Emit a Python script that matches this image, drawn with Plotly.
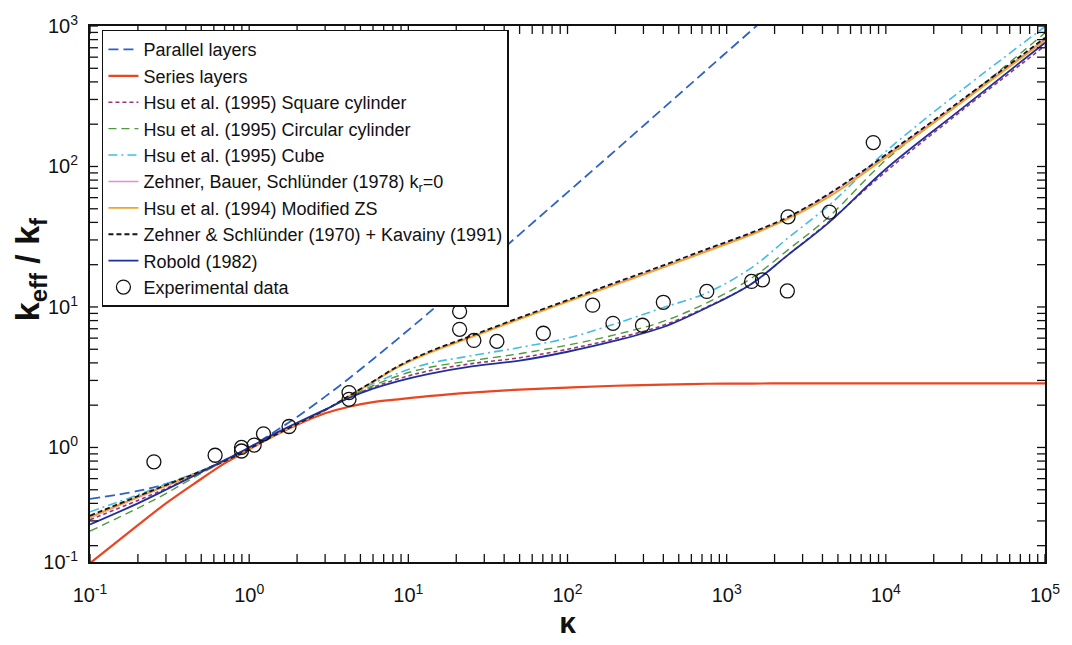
import math
import plotly.graph_objects as go

# Effective conductivity ratio vs. conductivity ratio kappa = k_s / k_f
kappa = [0.1, 0.2, 0.3, 0.47, 0.7, 1, 1.5, 2, 3, 4.24, 6, 8.66, 13.3, 25, 50,
         100, 200, 400, 750, 1430, 2430, 4400, 1e4, 3e4, 1e5]

parallel = [0.43, 0.49, 0.55, 0.66, 0.81, 1.0, 1.33, 1.65, 2.3, 3.1, 4.25, 5.98,
            9.0, 16.6, 32.9, 65.4, 130, 260, 488, 930, 1580, 2860, 6500, 19500, 65000]
series = [0.15, 0.28, 0.40, 0.57, 0.77, 0.97, 1.24, 1.45, 1.75, 1.95, 2.10, 2.20,
          2.32, 2.46, 2.58, 2.67, 2.75, 2.80, 2.84, 2.85, 2.86, 2.86, 2.86, 2.86, 2.86]
hsu_square = [0.306, 0.42, 0.51, 0.645, 0.80, 0.99, 1.26, 1.48, 1.85, 2.27, 2.68, 3.08,
              3.5, 3.95, 4.35, 5.0, 5.95, 7.4, 10.0, 14.6, 23.5, 40.5, 92, 250, 723]
hsu_circular = [0.254, 0.37, 0.47, 0.63, 0.80, 0.99, 1.26, 1.48, 1.85, 2.28, 2.75, 3.24,
                3.7, 4.15, 4.65, 5.35, 6.35, 7.9, 10.7, 16.0, 25.5, 44, 111, 290, 893]
hsu_cube = [0.348, 0.46, 0.55, 0.665, 0.81, 0.99, 1.26, 1.48, 1.85, 2.32, 2.85, 3.38,
            3.95, 4.5, 5.15, 6.0, 7.6, 9.9, 12.6, 19, 31, 53, 128, 350, 990]
zbs_kr0 = [0.315, 0.44, 0.53, 0.655, 0.80, 0.98, 1.25, 1.47, 1.85, 2.32, 2.93, 3.76,
           4.72, 6.17, 8.28, 11.0, 14.6, 19.4, 25.3, 33.2, 43.0, 63, 119, 293, 808]
hsu_mod_zs = [0.32, 0.445, 0.535, 0.655, 0.80, 0.98, 1.25, 1.47, 1.84, 2.31, 2.92, 3.74,
              4.68, 6.1, 8.2, 10.9, 14.4, 19.1, 24.9, 32.7, 42.5, 61, 116, 287, 790]
zs_kaviany = [0.327, 0.45, 0.54, 0.66, 0.80, 0.98, 1.25, 1.47, 1.85, 2.33, 2.95, 3.80,
              4.77, 6.25, 8.4, 11.2, 14.9, 19.8, 25.8, 33.8, 43.7, 64, 121, 298, 824]
robold = [0.283, 0.40, 0.50, 0.645, 0.81, 1.0, 1.28, 1.5, 1.86, 2.25, 2.62, 2.97,
          3.33, 3.78, 4.15, 4.8, 5.75, 7.2, 9.9, 14.6, 23.5, 40, 96, 258, 760]

exp_kappa = [0.252, 0.611, 0.895, 0.895, 1.075, 1.23, 1.78, 4.24, 4.24, 21.0, 21.0,
             25.8, 36.0, 70.5, 144, 193, 296, 400, 750, 1433, 1679, 2405, 2430, 4425, 8335]
exp_keff = [0.79, 0.88, 1.00, 0.944, 1.04, 1.25, 1.41, 2.46, 2.20, 9.28, 6.93,
            5.78, 5.69, 6.50, 10.3, 7.65, 7.41, 10.8, 12.9, 15.2, 15.6, 13.0, 43.8, 47.4, 148]

FONT = "Liberation Sans, Arial, sans-serif"

curves = [
    ("Parallel layers", parallel, "#2f62c4", "10px,5px", 1.8),
    ("Series layers", series, "#ea4520", "solid", 2.2),
    ("Hsu et al. (1995) Square cylinder", hsu_square, "#9a3576", "4px,3px", 1.6),
    ("Hsu et al. (1995) Circular cylinder", hsu_circular, "#4e9a3c", "8px,5px", 1.4),
    ("Hsu et al. (1995) Cube", hsu_cube, "#43bde6", "9px,4px,2px,4px", 1.6),
    ("Zehner, Bauer, Schlünder (1978) k<sub>r</sub>=0", zbs_kr0, "#ea8ad6", "solid", 1.4),
    ("Hsu et al. (1994) Modified ZS", hsu_mod_zs, "#f5a323", "solid", 1.8),
    ("Zehner & Schlünder (1970) + Kavainy (1991)", zs_kaviany, "#151515", "5px,3px", 1.8),
    ("Robold (1982)", robold, "#1f2f9e", "solid", 1.8),
]

fig = go.Figure()
for name, vals, color, dash, width in curves:
    fig.add_trace(go.Scatter(x=kappa, y=vals, mode="lines", name=name,
                             line=dict(color=color, dash=dash, width=width,
                                       shape="spline", smoothing=1.0)))

fig.add_trace(go.Scatter(x=exp_kappa, y=exp_keff, mode="markers", name="Experimental data",
                         marker=dict(symbol="circle-open", size=14, color="#111",
                                     line=dict(width=1.3, color="#111"))))

# log axes: 10^-1 .. 10^5 horizontally; vertical axis bottom edge sits just above 0.15
y_bottom = 0.153
x_major = [0.1, 1, 10, 100, 1000, 1e4, 1e5]
x_major_text = ["10<sup>-1</sup>", "10<sup>0</sup>", "10<sup>1</sup>", "10<sup>2</sup>",
                "10<sup>3</sup>", "10<sup>4</sup>", "10<sup>5</sup>"]
y_major = [y_bottom, 1, 10, 100, 1000]
y_major_text = ["10<sup>-1</sup>", "10<sup>0</sup>", "10<sup>1</sup>", "10<sup>2</sup>",
                "10<sup>3</sup>"]

# decade sub-divisions
x_minor = [m * 10 ** e for e in range(-1, 5) for m in range(2, 10)]
y_minor = [m * 10 ** e for e in range(-1, 3) for m in range(2, 10)]

axis_common = dict(
    type="log", showgrid=False, zeroline=False,
    showline=True, linecolor="#111", linewidth=2, mirror=True,
    ticks="", tickfont=dict(family=FONT, size=20, color="#111"),
    tickmode="array",
)

fig.update_xaxes(**axis_common, range=[-1, 5], tickvals=x_major, ticktext=x_major_text,
                 ticklabelstandoff=14,
                 title=dict(text="<b>κ</b>", font=dict(family=FONT, size=30, color="#111"),
                            standoff=6))
fig.update_yaxes(**axis_common, range=[math.log10(y_bottom), 3], tickvals=y_major,
                 ticktext=y_major_text, ticklabelstandoff=6)

# inward tick marks on all four sides of the frame (data positions, fixed pixel length)
TICK_LEN = 8
tick_line = dict(color="#111", width=1.3)
tick_shapes = []
for v in x_major + x_minor:
    for anchor, sign in ((0, 1), (1, -1)):
        tick_shapes.append(dict(type="line", xref="x", yref="paper", x0=v, x1=v,
                                ysizemode="pixel", yanchor=anchor, y0=0, y1=sign * TICK_LEN,
                                line=tick_line, layer="above"))
for v in [1, 10, 100, 1000] + y_minor:
    for anchor, sign in ((0, 1), (1, -1)):
        tick_shapes.append(dict(type="line", xref="paper", yref="y", y0=v, y1=v,
                                xsizemode="pixel", xanchor=anchor, x0=0, x1=sign * TICK_LEN,
                                line=tick_line, layer="above"))
fig.update_layout(shapes=tick_shapes)

# vertical axis title
fig.add_annotation(text="<b>k<sub>eff</sub> / k<sub>f</sub></b>", textangle=-90,
                   xref="paper", yref="paper", x=-0.0625, y=0.545,
                   xanchor="center", yanchor="middle", showarrow=False,
                   font=dict(family=FONT, size=34, color="#111"))

fig.update_layout(
    width=1072, height=645,
    margin=dict(l=90, r=22, t=19, b=71),
    paper_bgcolor="white", plot_bgcolor="white",
    showlegend=True,
    legend=dict(x=0.0125, y=0.993, xanchor="left", yanchor="top",
                bgcolor="white", bordercolor="#111", borderwidth=1.5,
                font=dict(family=FONT, size=18, color="#111"),
                itemwidth=30, traceorder="normal", tracegroupgap=0),
)

fig.write_html("out.html")
